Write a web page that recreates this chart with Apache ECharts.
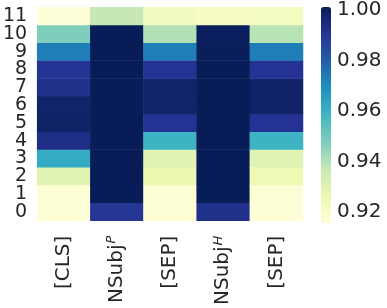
<!DOCTYPE html>
<html><head><meta charset="utf-8">
<script src="https://cdn.jsdelivr.net/npm/echarts@6/dist/echarts.min.js"></script>
<style>html,body{margin:0;padding:0;background:#fff}#c{width:387px;height:308px}</style>
</head><body><div id="c"></div>
<script>
// categories
const columns = ['[CLS]', 'NSubj{sup|P}', '[SEP]', 'NSubj{sup|H}', '[SEP]'];
const rows = ['0','1','2','3','4','5','6','7','8','9','10','11'];
// values per column, row 0 .. row 11
const clsVals    = [0.9166, 0.9166, 0.9299, 0.9613, 0.9920, 0.9977, 0.9968, 0.9910, 0.9895, 0.9723, 0.9473, 0.9160];
const nsubjPVals = [0.9890, 1.0000, 1.0000, 1.0000, 1.0000, 1.0000, 1.0000, 1.0000, 1.0000, 1.0000, 1.0000, 0.9370];
const sep1Vals   = [0.9166, 0.9166, 0.9258, 0.9299, 0.9587, 0.9897, 0.9968, 0.9968, 0.9897, 0.9723, 0.9400, 0.9225];
const nsubjHVals = [0.9910, 1.0000, 1.0000, 1.0000, 1.0000, 1.0000, 1.0000, 1.0000, 1.0000, 0.9995, 0.9990, 0.9215];
const sep2Vals   = [0.9166, 0.9166, 0.9250, 0.9299, 0.9587, 0.9897, 0.9972, 0.9972, 0.9897, 0.9723, 0.9390, 0.9220];
// colour scale
const vMin = 0.9157, vMax = 1.0;
const colorTicks = [0.92, 0.94, 0.96, 0.98, 1.00];
const palette = ['#ffffd9','#edf8b1','#c7e9b4','#7fcdbb','#41b6c4','#1d91c0','#225ea8','#253494','#081d58'];

const cols = [clsVals, nsubjPVals, sep1Vals, nsubjHVals, sep2Vals];
const data = [];
cols.forEach((arr, ci) => arr.forEach((v, ri) => data.push([ci, ri, v])));

const font = 'DejaVu Sans';
const txt = '#262626';
const chart = echarts.init(document.getElementById('c'), null, {renderer: 'canvas'});
chart.setOption({
  animation: false,
  grid: [
    {left: 36, top: 7.25, width: 267, height: 216},
    {left: 321, top: 7, width: 10, height: 216}
  ],
  xAxis: [
    {type: 'category', data: columns, gridIndex: 0,
     axisLine: {show: false}, axisTick: {show: false}, splitLine: {show: false},
     axisLabel: {rotate: 90, margin: 15, fontSize: 20, color: txt, fontFamily: font, interval: 0,
       rich: {sup: {fontSize: 13, fontStyle: 'italic', verticalAlign: 'top', color: txt, fontFamily: font, padding: [0,0,10,1]}}}},
    {type: 'value', gridIndex: 1, show: false, min: 0, max: 1}
  ],
  yAxis: [
    {type: 'category', data: rows, gridIndex: 0,
     axisLine: {show: false}, axisTick: {show: false}, splitLine: {show: false},
     axisLabel: {margin: 10, fontSize: 19, color: txt, fontFamily: font, interval: 0}},
    {type: 'value', gridIndex: 1, position: 'right', min: vMin, max: vMax,
     axisLine: {show: false}, splitLine: {show: false},
     axisTick: {show: true, length: 4, inside: false, lineStyle: {color: txt, width: 1}, customValues: colorTicks},
     axisLabel: {show: true, margin: 6, fontSize: 20, color: txt, fontFamily: font, customValues: colorTicks,
       formatter: v => Number(v).toFixed(2)}}
  ],
  visualMap: {
    type: 'continuous', min: vMin, max: vMax, calculable: false, seriesIndex: 0,
    left: 321, top: 7, itemWidth: 10, itemHeight: 216, orient: 'vertical',
    text: null, showLabel: false, padding: 0, hoverLink: false,
    inRange: {color: palette}
  },
  series: [{
    type: 'heatmap', xAxisIndex: 0, yAxisIndex: 0, data: data,
    itemStyle: {borderWidth: 0}, emphasis: {disabled: true}, progressive: 0
  }]
});
</script></body></html>
